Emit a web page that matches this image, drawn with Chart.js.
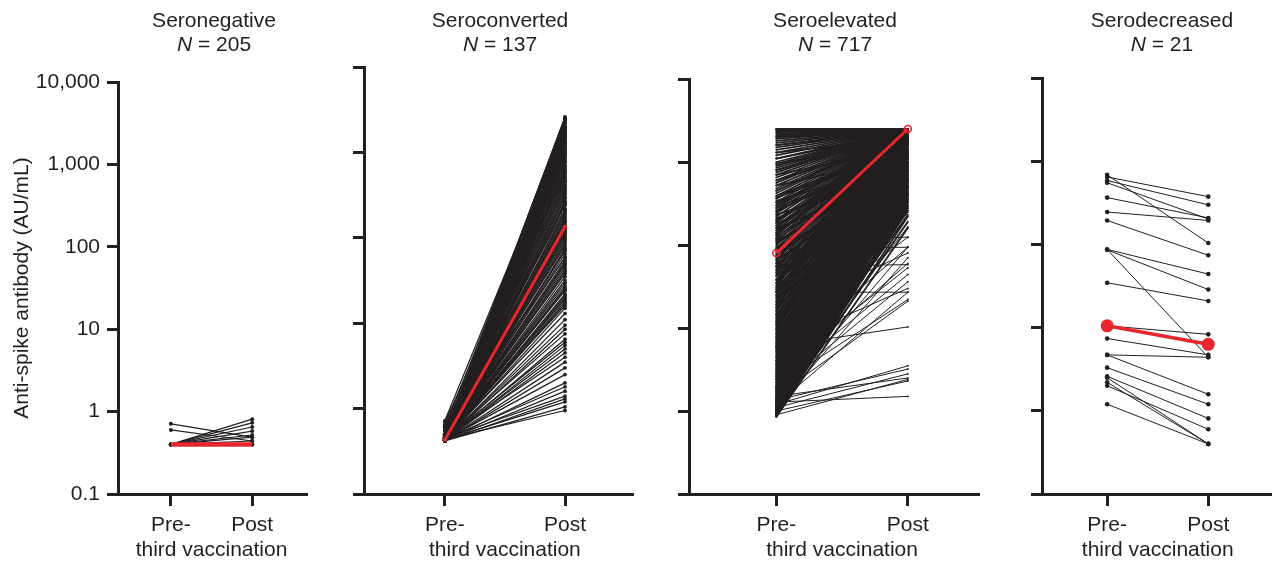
<!DOCTYPE html>
<html lang="en">
  <head>
    <meta charset="UTF-8" />
    <title>Anti-spike antibody before and after third vaccination</title>
    <script src="https://cdn.jsdelivr.net/npm/chart.js"></script>
    <style>
      html,
      body {
        margin: 0;
        padding: 0;
        background: #fff;
      }
      #wrap {
        position: relative;
        width: 1278px;
        height: 561px;
        overflow: hidden;
      }
      #wrap canvas {
        position: absolute;
        top: 0;
      }
    </style>
  </head>

  <body>
    <div id="wrap">
      <canvas id="panel-1"></canvas>
      <canvas id="panel-2"></canvas>
      <canvas id="panel-3"></canvas>
      <canvas id="panel-4"></canvas>
    </div>

    <script>
      // ---- data ----
      const yTickValues = [0.1, 1, 10, 100, 1000, 10000];
      const yTickLabels = ["0.1", "1", "10", "100", "1,000", "10,000"];
      const timepoints = ["Pre-", "Post"];
      const groupNames = ["Seronegative", "Seroconverted", "Seroelevated", "Serodecreased"];
      const groupCounts = [205, 137, 717, 21];

      // Seronegative (most lines sit at 0.4 -> 0.4, under the red median)
      const seronegativePre = [0.71, 0.6, 0.4, 0.4, 0.4, 0.4, 0.4, 0.4, 0.4, 0.4, 0.4, 0.4];
      const seronegativePost = [0.49, 0.44, 0.81, 0.73, 0.65, 0.58, 0.52, 0.49, 0.44, 0.4, 0.4, 0.4];
      const seronegativeMedian = [0.4, 0.4];

      // Seroconverted
      const seroconvertedPre = [
        0.45, 0.43, 0.5, 0.42, 0.44, 0.47, 0.43, 0.6, 0.42, 0.45, 0.72, 0.43, 0.46, 0.42, 0.44,
        0.48, 0.43, 0.42, 0.55, 0.45, 0.43, 0.42, 0.65, 0.44, 0.42, 0.46, 0.43, 0.5, 0.42, 0.45, 0.43, 0.42, 0.47, 0.44, 0.42,
        0.43, 0.45, 0.42, 0.6, 0.44, 0.42, 0.43, 0.48, 0.42, 0.45, 0.43, 0.42, 0.7, 0.44, 0.42, 0.46, 0.43, 0.42, 0.5, 0.45, 0.42, 0.43, 0.44, 0.42, 0.47,
        0.43, 0.42, 0.45, 0.44, 0.42, 0.55, 0.43, 0.42, 0.46, 0.44, 0.42, 0.43, 0.45, 0.42, 0.48, 0.43, 0.42, 0.44, 0.42, 0.45, 0.43, 0.42,
        0.44, 0.42, 0.43, 0.5, 0.42, 0.45, 0.43, 0.42, 0.44, 0.62, 0.42, 0.43, 0.45, 0.42, 0.44, 0.43, 0.42, 0.47, 0.42, 0.43,
        0.42, 0.44, 0.43, 0.42, 0.45, 0.42, 0.43, 0.42, 0.44, 0.42, 0.43, 0.5, 0.42, 0.44, 0.42,
        0.43, 0.42, 0.45, 0.42, 0.44, 0.42, 0.43, 0.42, 0.46, 0.42,
        0.42, 0.43, 0.42, 0.44, 0.42, 0.45, 0.42, 0.43, 0.42, 0.44,
      ];
      const seroconvertedPost = [
        2600, 2550, 2500, 2450, 2400, 2300, 2200, 2100, 2000, 1950, 1900, 1850, 1800, 1750, 1700,
        1650, 1600, 1550, 1500, 1450, 1400, 1350, 1300, 1250, 1200, 1150, 1100, 1050, 1000, 1000, 980, 1700, 1500, 1300, 1100,
        950, 900, 850, 800, 780, 750, 700, 680, 650, 600, 580, 550, 520, 500, 480, 450, 420, 400, 380, 360, 340, 320, 300, 610, 460,
        290, 270, 260, 250, 240, 220, 210, 200, 190, 180, 170, 160, 155, 150, 140, 130, 125, 120, 115, 110, 105, 100,
        95, 90, 85, 80, 75, 72, 70, 65, 60, 58, 55, 52, 50, 48, 45, 42, 40, 38, 35, 32,
        30, 28, 26, 25, 24, 22, 21, 20, 19, 18, 17, 16, 15, 13, 11,
        9.5, 8.5, 7.5, 6.5, 6, 5.5, 5, 4.5, 4, 3.5,
        3, 2.5, 2, 1.8, 1.6, 1.4, 1.3, 1.2, 1.05, 0.95,
      ];
      const seroconvertedMedian = [0.43, 135];

      // Seroelevated: participants whose post value reached the 2,500 ceiling
      const seroelevatedCeiling = 2500;
      const seroelevatedCeilingPre = [
        2500, 2500, 2450, 2400, 2300, 2200, 2100, 2000, 1900, 1800, 1700, 1600, 1500, 1400, 1300, 1200, 1100, 1000,
        950, 900, 850, 800, 750, 700, 650, 600, 560, 520, 480, 450, 420, 390, 360, 330, 300, 280, 260, 240, 220, 200,
        185, 170, 160, 150, 140, 130, 120, 110, 100, 92, 85, 78, 72, 66, 60, 55, 50, 46, 42, 38, 35, 32, 29, 27, 25,
        23, 21, 19, 17.5, 16, 14.5, 13, 12, 11, 10, 9.2, 8.4, 7.7, 7, 6.4, 5.8, 5.3, 4.8, 4.4, 4, 3.7, 3.4, 3.1, 2.8,
        2.6, 2.4, 2.2, 2, 1.85, 1.7, 1.6, 1.5, 1.4, 1.3, 1.2, 1.12, 1.05, 1, 0.95, 0.9, 0.86,
      ];
      // Seroelevated: the dense fan below the ceiling
      const seroelevatedPre = [
        0.85, 0.88, 0.9, 0.92, 0.95, 0.97, 1.0, 1.0, 1.05, 1.08, 1.1, 1.15, 1.2, 1.25, 1.3, 1.35, 1.4, 1.5, 1.6, 1.7,
        1.8, 1.9, 2.0, 2.2, 2.4, 2.6, 2.8, 3.0,
        0.86, 0.87, 0.89, 0.9, 0.91, 0.93, 0.94, 0.96, 0.98, 0.99, 1.02, 1.03, 1.06, 1.07, 1.09, 1.12, 1.14, 1.17, 1.19, 1.22,
        1.24, 1.27, 1.32, 1.37, 1.42, 1.46, 1.55, 1.65, 1.75, 1.85, 1.95, 2.1, 2.3, 2.5, 2.7, 2.9, 3.2, 3.5, 3.8, 4.2,
        3.3, 3.6, 4, 4.5, 5, 5.5, 6, 6.8, 7.5, 8.5, 9.5, 11, 12, 13.5, 15, 17, 19, 21, 24, 27, 30, 34, 38, 42, 47, 53,
        60, 67, 75, 85, 95,
        4.6, 5.2, 5.7, 6.2, 6.6, 7.2, 7.9, 8.8, 9.8, 10.5, 11.5, 12.5, 14, 16, 18, 20, 22.5, 25, 28, 31,
        35, 39, 44, 49, 56, 63, 70, 80, 90, 105, 115, 135, 150, 170, 190, 210, 250, 280, 320, 370,
        110, 125, 140, 160, 180, 200, 230, 260, 300, 340, 390, 450, 520, 600, 700, 800, 950, 1100, 1300, 1600, 2000,
      ];
      const seroelevatedPost = [
        160, 220, 300, 420, 600, 900, 1300, 1800, 190, 260, 380, 520, 750, 1100, 1600, 2100, 230, 340, 480, 700,
        1000, 1500, 2000, 280, 400, 620, 950, 1400,
        280, 340, 400, 480, 560, 650, 760, 880, 1000, 1150, 320, 380, 450, 530, 620, 720, 840, 980, 1200, 1400,
        300, 360, 430, 510, 600, 700, 820, 960, 1250, 1700, 330, 410, 500, 580, 680, 800, 950, 1100, 1350, 1650,
        250, 450, 800, 1200, 1900, 350, 600, 1000, 1700, 300, 520, 850, 1300, 2200, 400, 700, 1100, 1600, 260, 500, 900,
        1400, 2000, 600, 1000, 1500, 350, 750, 1200, 1800, 480,
        900, 420, 650, 1300, 2000, 520, 780, 1100, 1500, 2300, 620, 950, 1250, 1800, 500, 850, 1350, 2100, 700, 1050,
        1700, 560, 900, 1250, 1900, 800, 1300, 2000, 650, 1100, 1600, 2200, 900, 1400, 2000, 1100, 1700, 1250, 1900, 1500,
        900, 1400, 2100, 650, 1100, 1700, 800, 1300, 2000, 1000, 1600, 2300, 1200, 1900, 1500, 2200, 1800, 2300, 2000, 2400, 2400,
      ];
      // Seroelevated: single lines visible in the white wedge
      const seroelevatedWedgePre = [1.2, 1.35, 1.1, 1.5, 1.0, 1.28, 0.9, 6, 1.5, 2, 1.2, 27, 1.8, 3, 55, 2.5, 1.3, 90, 120, 4, 1.6, 8, 2.2, 1.1, 15, 6];
      const seroelevatedWedgePost = [3.5, 3.2, 2.8, 2.5, 2.3, 1.5, 2.4, 10.3, 21, 22, 27, 27, 36, 53, 58, 60, 94, 94, 124, 94, 165, 124, 44, 70, 80, 30];
      const seroelevatedMedian = [80, 2500];

      // Serodecreased
      const serodecreasedPre = [686, 646, 585, 551, 365, 245, 194, 87, 86, 87, 34.6, 10.5, 7.4, 4.7, 4.7, 3.3, 2.6, 2.5, 2.2, 2.0, 1.2];
      const serodecreasedPost = [104, 375, 299, 202, 208, 194, 74, 44, 28.7, 4.4, 20.9, 8.3, 4.7, 4.4, 1.58, 1.2, 0.81, 0.4, 0.4, 0.6, 0.4];
      const serodecreasedMedian = [10.5, 6.3];

      // ---- look ----
      const INK = "#231f20";
      const RED = "#e8262d";
      const FONT = '"Liberation Sans", Arial, Helvetica, sans-serif';
      const FONT_SIZE = 21;
      const H = 561;
      const AXIS_BOTTOM = 494;

      const panels = [
        { id: "panel-1", left: 0, right: 311, axisX: 118, preX: 172, postX: 255, topY: 82, titleX: 214, showLabels: true,
          pre: seronegativePre, post: seronegativePost, extraPre: [], extraPost: [], median: seronegativeMedian,
          lineWidth: 1.2, dot: 2, redWidth: 4.5, redDot: 0, redFill: RED },
        { id: "panel-2", left: 330, right: 637, axisX: 364, preX: 446, postX: 568, topY: 67, titleX: 500, showLabels: false,
          pre: seroconvertedPre, post: seroconvertedPost, extraPre: [], extraPost: [], median: seroconvertedMedian,
          lineWidth: 1.25, dot: 1.9, redWidth: 3, redDot: 2, redFill: RED },
        { id: "panel-3", left: 650, right: 985, axisX: 689, preX: 778, postX: 912, topY: 79, titleX: 835, showLabels: false,
          pre: seroelevatedCeilingPre.concat(seroelevatedPre),
          post: seroelevatedCeilingPre.map(() => seroelevatedCeiling).concat(seroelevatedPost),
          extraPre: seroelevatedWedgePre, extraPost: seroelevatedWedgePost,
          median: seroelevatedMedian,
          lineWidth: 1.8, dot: 1, redWidth: 3, redDot: 3.5, redFill: "rgba(0,0,0,0)" },
        { id: "panel-4", left: 1000, right: 1278, axisX: 1042, preX: 1109, postX: 1213, topY: 78, titleX: 1162, showLabels: false,
          pre: serodecreasedPre, post: serodecreasedPost, extraPre: [], extraPost: [], median: serodecreasedMedian,
          lineWidth: 1, dot: 2.3, redWidth: 3.5, redDot: 6.5, redFill: RED },
      ];

      // titles, "third vaccination" and the y-axis title
      const panelText = {
        id: "panelText",
        afterDraw(chart, args, opts) {
          const ctx = chart.ctx;
          const xs = chart.scales.x;
          const mid = (xs.getPixelForValue(1) + xs.getPixelForValue(2)) / 2;
          const normal = FONT_SIZE + "px " + FONT;
          const italic = "italic " + FONT_SIZE + "px " + FONT;
          ctx.save();
          ctx.fillStyle = INK;
          ctx.textBaseline = "middle";
          ctx.textAlign = "center";
          ctx.font = normal;
          ctx.fillText(opts.title, opts.titleX, 21);
          ctx.fillText("third vaccination", mid, 550);

          const rest = " = " + opts.n;
          ctx.font = italic;
          const wN = ctx.measureText("N").width;
          ctx.font = normal;
          const wR = ctx.measureText(rest).width;
          const start = opts.titleX - (wN + wR) / 2;
          ctx.textAlign = "left";
          ctx.font = italic;
          ctx.fillText("N", start, 45);
          ctx.font = normal;
          ctx.fillText(rest, start + wN, 45);

          if (opts.yTitle) {
            ctx.textAlign = "center";
            ctx.translate(22, (chart.chartArea.top + chart.chartArea.bottom) / 2);
            ctx.rotate(-Math.PI / 2);
            ctx.fillText(opts.yTitle, 0, 0);
          }
          ctx.restore();
        },
      };

      function lineDataset(a, b, width, radius) {
        return {
          data: [{ x: 1, y: a }, { x: 2, y: b }],
          borderColor: INK,
          borderWidth: width,
          pointRadius: radius,
          pointBackgroundColor: INK,
          pointBorderWidth: 0,
          order: 1,
        };
      }

      function renderPanel(p, i) {
        const canvas = document.getElementById(p.id);
        canvas.width = p.right - p.left;
        canvas.height = H;
        canvas.style.left = p.left + "px";

        const unit = p.postX - p.preX;
        const xMin = 1 - (p.preX - p.axisX) / unit;
        const xMax = 2 + (p.right - p.postX) / unit;

        const datasets = [
          {
            data: [{ x: 1, y: p.median[0] }, { x: 2, y: p.median[1] }],
            borderColor: RED,
            borderWidth: p.redWidth,
            pointRadius: p.redDot,
            pointBackgroundColor: p.redFill,
            pointBorderColor: RED,
            pointBorderWidth: p.redFill === RED ? 0 : 1.6,
            order: 0,
          },
        ];
        for (let k = 0; k < Math.min(p.pre.length, p.post.length); k++) {
          datasets.push(lineDataset(p.pre[k], p.post[k], p.lineWidth, p.dot));
        }
        for (let k = 0; k < Math.min(p.extraPre.length, p.extraPost.length); k++) {
          datasets.push(lineDataset(p.extraPre[k], p.extraPost[k], 1, p.dot));
        }

        new Chart(canvas, {
          type: "line",
          data: { datasets: datasets },
          options: {
            responsive: false,
            animation: false,
            events: [],
            layout: { padding: { top: p.topY, left: 0, right: 0, bottom: 0 } },
            plugins: {
              legend: { display: false },
              tooltip: { enabled: false },
              panelText: {
                title: groupNames[i],
                n: groupCounts[i],
                titleX: p.titleX - p.left,
                yTitle: p.showLabels ? "Anti-spike antibody (AU/mL)" : "",
              },
            },
            scales: {
              x: {
                type: "linear",
                min: xMin,
                max: xMax,
                afterBuildTicks: (s) => {
                  s.ticks = [{ value: 1 }, { value: 2 }];
                },
                afterFit: (s) => {
                  s.height = H - AXIS_BOTTOM;
                },
                grid: { drawOnChartArea: false, drawTicks: true, tickLength: 12, tickWidth: 3, tickColor: INK },
                border: { display: true, width: 3, color: INK },
                ticks: {
                  padding: 7,
                  color: INK,
                  font: { family: FONT, size: FONT_SIZE },
                  maxRotation: 0,
                  autoSkip: false,
                  callback: (v) => timepoints[Math.round(v) - 1],
                },
              },
              y: {
                type: "logarithmic",
                min: yTickValues[0],
                max: yTickValues[yTickValues.length - 1],
                afterBuildTicks: (s) => {
                  s.ticks = yTickValues.map((v) => ({ value: v }));
                },
                afterFit: (s) => {
                  s.width = p.axisX - p.left;
                },
                grid: { drawOnChartArea: false, drawTicks: true, tickLength: 11, tickWidth: 3, tickColor: INK },
                border: { display: true, width: 3, color: INK },
                ticks: {
                  padding: 7,
                  color: INK,
                  font: { family: FONT, size: FONT_SIZE },
                  autoSkip: false,
                  callback: (v) => (p.showLabels ? yTickLabels[yTickValues.indexOf(v)] : ""),
                },
              },
            },
          },
          plugins: [panelText],
        });
      }

      panels.forEach(renderPanel);
    </script>
  </body>
</html>
